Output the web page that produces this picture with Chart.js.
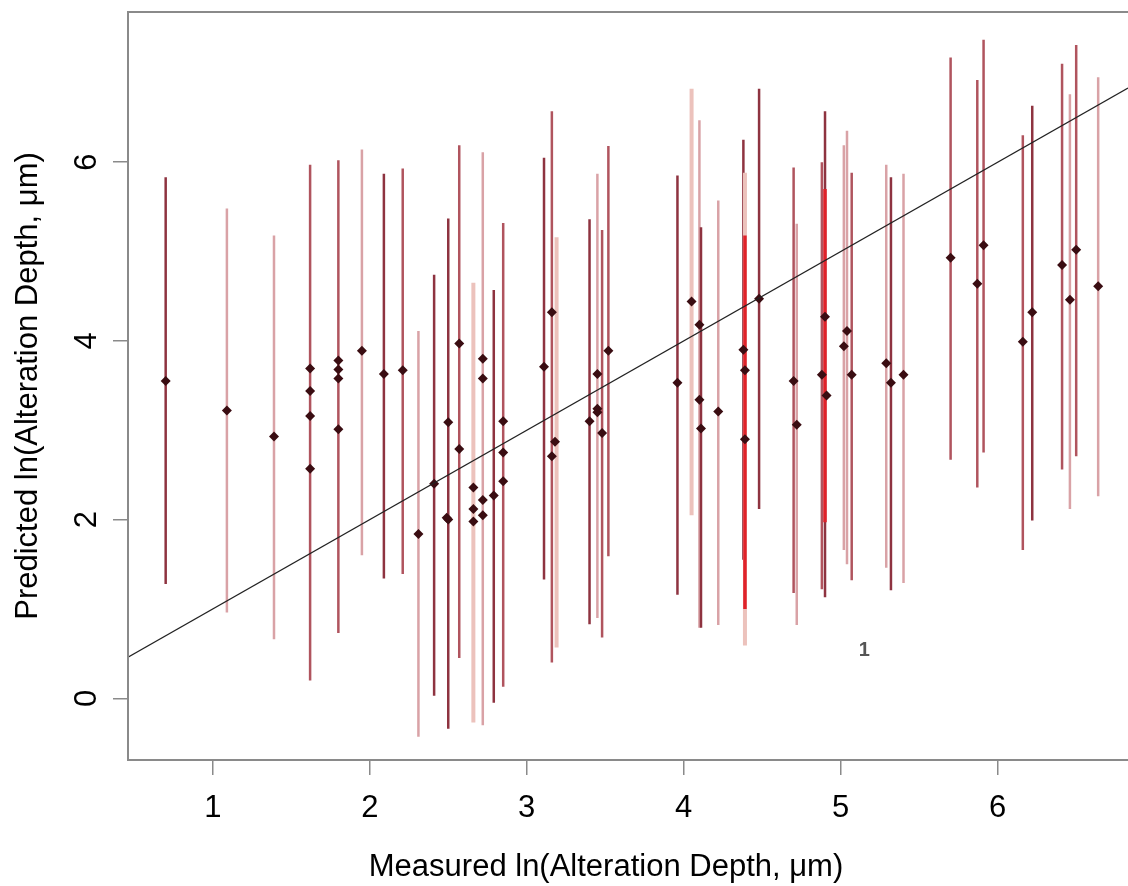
<!DOCTYPE html>
<html>
<head>
<meta charset="utf-8">
<script src="https://cdn.jsdelivr.net/npm/chart.js@4.4.1/dist/chart.umd.min.js"></script>
<style>
  html, body { margin: 0; padding: 0; background: #fff; }
  #wrap { width: 1128px; height: 886px; }
</style>
</head>
<body>
<div id="wrap"><canvas id="plot" width="1128" height="886"></canvas></div>
<script>
// Axis ticks
const xTicks = [1, 2, 3, 4, 5, 6];
const yTicks = [0, 2, 4, 6];
const xTitle = "Measured ln(Alteration Depth, μm)";
const yTitle = "Predicted ln(Alteration Depth, μm)";

// Predicted vs measured points
const pointX = [0.70, 1.09, 1.39, 1.62, 1.62, 1.62, 1.62, 1.80, 1.80, 1.80, 1.80, 1.95, 2.09, 2.21,
  2.31, 2.41, 2.50, 2.49, 2.50, 2.57, 2.57, 2.66, 2.66, 2.66, 2.72, 2.72, 2.72, 2.72, 2.79,
  2.85, 2.85, 2.85, 3.11, 3.16, 3.16, 3.18, 3.40, 3.45, 3.45, 3.45, 3.48, 3.52, 3.96, 4.05,
  4.10, 4.10, 4.11, 4.22, 4.38, 4.39, 4.39, 4.48, 4.70, 4.72, 4.88, 4.90, 4.91, 5.02, 5.04,
  5.07, 5.29, 5.32, 5.40, 5.70, 5.87, 5.91, 6.16, 6.22, 6.41, 6.46, 6.50, 6.64];
const pointY = [3.55, 3.22, 2.93, 3.69, 3.44, 3.16, 2.57, 3.78, 3.68, 3.58, 3.01, 3.89, 3.63, 3.67,
  1.84, 2.40, 3.09, 2.02, 2.00, 3.97, 2.79, 2.36, 2.12, 1.98, 3.80, 3.58, 2.22, 2.05, 2.27,
  3.10, 2.75, 2.43, 3.71, 4.32, 2.71, 2.87, 3.10, 3.63, 3.24, 3.20, 2.97, 3.89, 3.53, 4.44,
  4.18, 3.34, 3.02, 3.21, 3.90, 3.67, 2.90, 4.47, 3.55, 3.06, 3.62, 4.27, 3.39, 3.94, 4.11,
  3.62, 3.75, 3.53, 3.62, 4.93, 4.64, 5.07, 3.99, 4.32, 4.85, 4.46, 5.02, 4.61];

// Prediction intervals (vertical bars)
const barX = [0.70, 1.09, 1.39, 1.62, 1.80, 1.95, 2.09, 2.21, 2.31, 2.41, 2.50, 2.57, 2.66, 2.72,
  2.79, 2.85, 3.11, 3.16, 3.19, 3.40, 3.45, 3.48, 3.52, 3.96, 4.05, 4.10, 4.11, 4.22, 4.38,
  4.39, 4.39, 4.48, 4.70, 4.72, 4.88, 4.90, 4.90, 5.02, 5.04, 5.07, 5.29, 5.32, 5.40, 5.70,
  5.87, 5.91, 6.16, 6.22, 6.41, 6.46, 6.50, 6.64];
const barLow = [1.28, 0.96, 0.66, 0.20, 0.73, 1.60, 1.34, 1.39, -0.43, 0.03, -0.34, 0.45, -0.27, -0.30,
  -0.05, 0.13, 1.33, 0.40, 0.57, 0.83, 0.90, 0.68, 1.59, 1.16, 2.05, 0.79, 0.79, 0.82, 1.55,
  0.59, 1.00, 2.12, 1.18, 0.82, 1.22, 1.13, 1.97, 1.66, 1.50, 1.32, 1.46, 1.21, 1.29, 2.67,
  2.36, 2.75, 1.66, 1.99, 2.56, 2.12, 2.71, 2.26];
const barHigh = [5.83, 5.48, 5.18, 5.97, 6.02, 6.14, 5.87, 5.93, 4.11, 4.74, 5.37, 6.19, 4.65, 6.11,
  4.57, 5.32, 6.05, 6.57, 5.16, 5.36, 5.87, 5.24, 6.18, 5.85, 6.82, 6.47, 5.27, 5.57, 6.25,
  5.88, 5.18, 6.82, 5.94, 5.31, 6.00, 6.57, 5.70, 6.19, 6.35, 5.88, 5.97, 5.83, 5.87, 7.17,
  6.92, 7.37, 6.30, 6.63, 7.10, 6.76, 7.31, 6.95];
// 0 dark, 1 mid, 2 light, 3 pale, 4 bright red
const barShade = [0, 2, 2, 1, 1, 2, 0, 1, 2, 0, 0, 1, 3, 2,
  0, 1, 0, 1, 3, 0, 2, 1, 1, 0, 3, 2, 0, 2, 0,
  3, 4, 0, 1, 2, 1, 0, 4, 2, 2, 1, 2, 0, 2, 1,
  1, 1, 1, 0, 1, 2, 1, 2];

// 1:1 reference line
const lineX = [0.46, 6.83];
const lineY = [0.46, 6.83];

const shadeColor = ["#8e3340", "#b0545e", "#d9a2a6", "#ecc2bc", "#e0222a"];
const shadeWidth = [2.5, 2.5, 2.5, 4, 3.5];

const X_MIN = 0.46, X_MAX = 6.83, Y_MIN = -0.69, Y_MAX = 7.68;
const FONT = "'Liberation Sans', Arial, sans-serif";

const intervalBars = {
  id: "intervalBars",
  beforeDatasetsDraw(chart) {
    const { ctx, scales: { x, y } } = chart;
    ctx.save();
    ctx.beginPath();
    ctx.rect(chart.chartArea.left, chart.chartArea.top, chart.chartArea.width, chart.chartArea.height);
    ctx.clip();
    ctx.lineCap = "butt";
    barX.forEach((bx, i) => {
      const px = x.getPixelForValue(bx);
      ctx.strokeStyle = shadeColor[barShade[i]];
      ctx.lineWidth = shadeWidth[barShade[i]];
      ctx.beginPath();
      ctx.moveTo(px, y.getPixelForValue(barLow[i]));
      ctx.lineTo(px, y.getPixelForValue(barHigh[i]));
      ctx.stroke();
    });
    ctx.restore();
  },
  afterDraw(chart) {
    const { ctx, chartArea: a, scales: { x, y } } = chart;
    ctx.save();
    // plot box (right side runs off the canvas)
    ctx.strokeStyle = "#8a8a8a";
    ctx.lineWidth = 2;
    ctx.strokeRect(a.left, a.top, a.right - a.left + 6, a.bottom - a.top);
    // rotated y tick labels, R style
    ctx.fillStyle = "#000";
    ctx.font = "31px " + FONT;
    ctx.textAlign = "center";
    ctx.textBaseline = "middle";
    yTicks.forEach(v => {
      ctx.save();
      ctx.translate(a.left - 41, y.getPixelForValue(v));
      ctx.rotate(-Math.PI / 2);
      ctx.fillText(String(v), 0, 0);
      ctx.restore();
    });
    // x axis title
    ctx.textBaseline = "alphabetic";
    ctx.fillText(xTitle, 606, 876);
    // small marker in the plot
    ctx.fillStyle = "#555";
    ctx.font = "bold 20px " + FONT;
    ctx.textBaseline = "middle";
    ctx.fillText("1", x.getPixelForValue(5.15), y.getPixelForValue(0.54));
    ctx.restore();
  }
};

new Chart(document.getElementById("plot"), {
  type: "scatter",
  data: {
    datasets: [
      {
        type: "line",
        data: lineX.map((v, i) => ({ x: v, y: lineY[i] })),
        borderColor: "#222",
        borderWidth: 1.2,
        pointRadius: 0,
        fill: false
      },
      {
        data: pointX.map((v, i) => ({ x: v, y: pointY[i] })),
        backgroundColor: "#3a0d12",
        borderColor: "#3a0d12",
        pointStyle: "rectRot",
        pointRadius: 5,
        borderWidth: 0
      }
    ]
  },
  options: {
    responsive: false,
    animation: false,
    layout: { autoPadding: false, padding: { top: 12, right: 0, left: 0, bottom: 0 } },
    plugins: { legend: { display: false }, tooltip: { enabled: false } },
    scales: {
      x: {
        type: "linear",
        min: X_MIN,
        max: X_MAX,
        afterBuildTicks: s => { s.ticks = xTicks.map(v => ({ value: v })); },
        afterFit: s => { s.height = 126; },
        border: { display: false },
        grid: { drawOnChartArea: false, drawTicks: true, tickLength: 15, color: "#8a8a8a", lineWidth: 1.5 },
        ticks: { color: "#000", padding: 15, font: { family: FONT, size: 31 } }
      },
      y: {
        type: "linear",
        min: Y_MIN,
        max: Y_MAX,
        afterBuildTicks: s => { s.ticks = yTicks.map(v => ({ value: v })); },
        afterFit: s => { s.width = 128; },
        border: { display: false },
        grid: { drawOnChartArea: false, drawTicks: true, tickLength: 15, color: "#8a8a8a", lineWidth: 1.5 },
        ticks: { display: false },
        title: {
          display: true,
          text: yTitle,
          color: "#000",
          font: { family: FONT, size: 31 },
          padding: { top: 10, bottom: 0 }
        }
      }
    }
  },
  plugins: [intervalBars]
});
</script>
</body>
</html>
